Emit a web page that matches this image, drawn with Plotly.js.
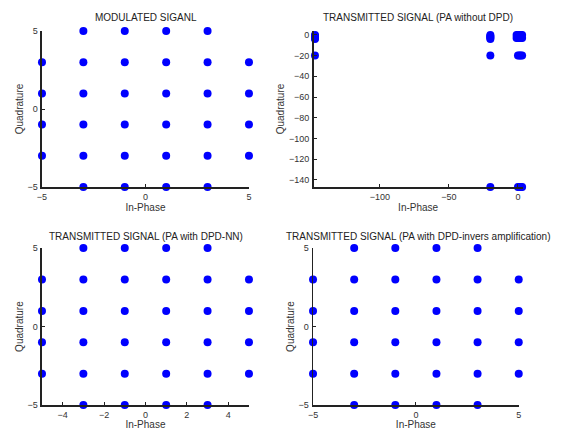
<!DOCTYPE html>
<html>
<head>
<meta charset="utf-8">
<script src="https://cdn.plot.ly/plotly-3.0.1.min.js"></script>
<style>html,body{margin:0;padding:0;background:#fff}#chart{width:562px;height:430px}</style>
</head>
<body>
<div id="chart"></div>
<script>
// 32-QAM constellation points (modulated signal)
const modI = [-3,-1,1,3, -5,-3,-1,1,3,5, -5,-3,-1,1,3,5, -5,-3,-1,1,3,5, -5,-3,-1,1,3,5, -3,-1,1,3];
const modQ = [5,5,5,5, 3,3,3,3,3,3, 1,1,1,1,1,1, -1,-1,-1,-1,-1,-1, -3,-3,-3,-3,-3,-3, -5,-5,-5,-5];

// PA without DPD
const paI = [-147,-147,-147,-147,-147,-147, -20,-20,-20,-20,-20, -1,0,1,2,3,-1,0,1,2,3, 0,1,2,3,4, 0,1,2,3,4, -20,-20];
const paQ = [0,-1,-2,-3,-4,-20, 0,-1,-2,-3,-4, 0,0,0,0,0,-3,-3,-3,-3,-3, -20,-20,-20,-20,-20, -147,-147,-147,-147,-147, -20,-147];

// PA with DPD-NN
const nnI = [-3,-1,1,3, -5,-3,-1,1,3,5, -5,-3,-1,1,3,5, -5,-3,-1,1,3,5, -5,-3,-1,1,3,5, -3,-1,1,3];
const nnQ = [5,5,5,5, 3,3,3,3,3,3, 1,1,1,1,1,1, -1,-1,-1,-1,-1,-1, -3,-3,-3,-3,-3,-3, -5,-5,-5,-5];

// PA with DPD-invers amplification
const invI = [-3,-1,1,3, -5,-3,-1,1,3,5, -5,-3,-1,1,3,5, -5,-3,-1,1,3,5, -5,-3,-1,1,3,5, -3,-1,1,3];
const invQ = [5,5,5,5, 3,3,3,3,3,3, 1,1,1,1,1,1, -1,-1,-1,-1,-1,-1, -3,-3,-3,-3,-3,-3, -5,-5,-5,-5];

const titles = ["MODULATED SIGANL", "TRANSMITTED SIGNAL (PA without DPD)",
  "TRANSMITTED SIGNAL (PA with DPD-NN)", "TRANSMITTED SIGNAL (PA with DPD-invers amplification)"];

const mk = {color: '#0000ff', size: 8, symbol: 'circle'};
function tr(x, y, n) {
  return {x: x, y: y, type: 'scatter', mode: 'markers', marker: mk, cliponaxis: false,
    xaxis: 'x' + (n === 1 ? '' : n), yaxis: 'y' + (n === 1 ? '' : n), showlegend: false, hoverinfo: 'x+y'};
}
const data = [tr(modI, modQ, 1), tr(paI, paQ, 2), tr(nnI, nnQ, 3), tr(invI, invQ, 4)];

const tf = {family: 'Liberation Sans, Arial, sans-serif', size: 9, color: '#333'};
function ax(domain, range, tickvals, anchor, titleText) {
  return {domain: domain, range: range, tickvals: tickvals, anchor: anchor,
    showline: true, linecolor: '#222', linewidth: 1.5, mirror: false,
    ticks: 'inside', ticklen: 3, tickcolor: '#222', tickwidth: 1,
    showgrid: false, zeroline: false, tickfont: tf, ticklabelstandoff: 1,
    title: {text: titleText, font: {family: 'Liberation Sans, Arial, sans-serif', size: 10, color: '#333'}, standoff: 2}};
}
const dX1 = [0.0747, 0.443], dX2 = [0.558, 0.930], dX4 = [0.557, 0.923];
const dYt = [0.565, 0.928], dYb = [0.058, 0.423];

const layout = {
  width: 562, height: 430, margin: {l: 0, r: 0, t: 0, b: 0},
  paper_bgcolor: '#fff', plot_bgcolor: '#fff',
  xaxis: ax(dX1, [-5, 5], [-5, 0, 5], 'y', 'In-Phase'),
  yaxis: ax(dYt, [-5, 5], [-5, 0, 5], 'x', 'Quadrature'),
  xaxis2: ax(dX2, [-148, 3.4], [-100, -50, 0], 'y2', 'In-Phase'),
  yaxis2: ax(dYt, [-147, 3.8], [-140, -120, -100, -80, -60, -40, -20, 0], 'x2', 'Quadrature'),
  xaxis3: ax(dX1, [-5, 5], [-4, -2, 0, 2, 4], 'y3', 'In-Phase'),
  yaxis3: ax(dYb, [-5, 5], [-5, 0, 5], 'x3', 'Quadrature'),
  xaxis4: ax(dX4, [-5, 5], [-5, 0, 5], 'y4', 'In-Phase'),
  yaxis4: ax(dYb, [-5, 5], [-5, 0, 5], 'x4', 'Quadrature'),
  annotations: [
    {text: titles[0], x: 146 / 562, y: 1 - 17 / 430},
    {text: titles[1], x: 418 / 562, y: 1 - 17 / 430},
    {text: titles[2], x: 146 / 562, y: 1 - 236 / 430},
    {text: titles[3], x: 418 / 562, y: 1 - 236 / 430}
  ].map(a => Object.assign(a, {xref: 'paper', yref: 'paper', showarrow: false, xanchor: 'center', yanchor: 'middle',
    font: {family: 'Liberation Sans, Arial, sans-serif', size: 10, color: '#222'}}))
};
Plotly.newPlot('chart', data, layout, {displayModeBar: false, staticPlot: true});
</script>
</body>
</html>
